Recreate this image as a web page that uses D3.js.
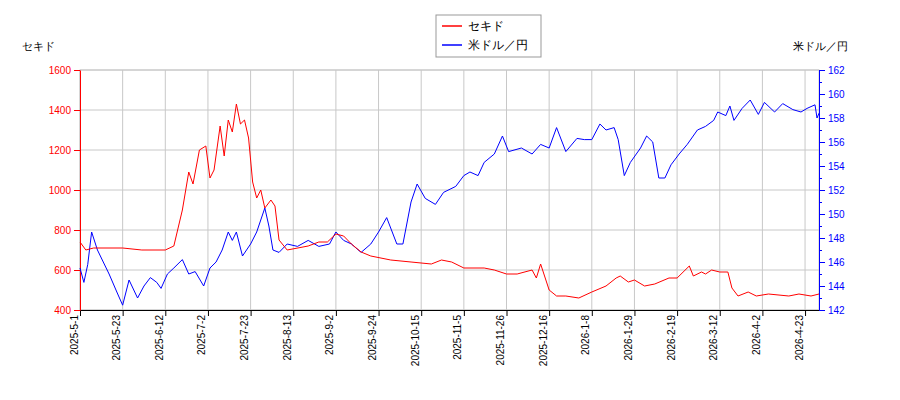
<!DOCTYPE html>
<html><head><meta charset="utf-8">
<script src="https://cdn.jsdelivr.net/npm/d3@7"></script>
<style>body{margin:0;background:#fff;font-family:"DejaVu Sans",sans-serif;}</style>
</head><body><svg id="c" width="900" height="400"></svg>
<script>
// セキド (left axis)
const sekidoDates = ["2025-05-01","2025-05-04","2025-05-08","2025-05-23","2025-06-01","2025-06-12","2025-06-16","2025-06-20","2025-06-23","2025-06-25","2025-06-28","2025-07-01","2025-07-03","2025-07-05","2025-07-08","2025-07-10","2025-07-12","2025-07-14","2025-07-16","2025-07-18","2025-07-20","2025-07-22","2025-07-24","2025-07-26","2025-07-28","2025-07-30","2025-08-02","2025-08-04","2025-08-06","2025-08-10","2025-08-20","2025-08-25","2025-08-29","2025-09-02","2025-09-06","2025-09-10","2025-09-15","2025-09-20","2025-09-30","2025-10-10","2025-10-20","2025-10-25","2025-10-30","2025-11-05","2025-11-15","2025-11-20","2025-11-26","2025-12-01","2025-12-08","2025-12-10","2025-12-12","2025-12-16","2025-12-20","2025-12-25","2026-01-01","2026-01-08","2026-01-15","2026-01-20","2026-01-22","2026-01-26","2026-01-29","2026-02-03","2026-02-08","2026-02-15","2026-02-19","2026-02-25","2026-02-27","2026-03-03","2026-03-05","2026-03-08","2026-03-12","2026-03-16","2026-03-18","2026-03-21","2026-03-26","2026-03-30","2026-04-05","2026-04-15","2026-04-20","2026-04-26","2026-04-30"];
const sekidoValues = [740,700,710,710,700,700,720,900,1090,1030,1200,1220,1060,1100,1320,1170,1350,1290,1430,1330,1350,1260,1040,960,1000,910,950,920,750,700,720,740,740,780,770,730,690,670,650,640,630,650,640,610,610,600,580,580,600,560,630,500,470,470,460,490,520,560,570,540,550,520,530,560,560,620,570,590,580,600,590,590,510,470,490,470,480,470,480,470,480];
// 米ドル／円 (right axis)
const usdDates = ["2025-05-01","2025-05-03","2025-05-05","2025-05-07","2025-05-10","2025-05-13","2025-05-16","2025-05-20","2025-05-23","2025-05-26","2025-05-30","2025-06-02","2025-06-05","2025-06-08","2025-06-10","2025-06-13","2025-06-16","2025-06-20","2025-06-23","2025-06-26","2025-06-30","2025-07-03","2025-07-06","2025-07-09","2025-07-12","2025-07-14","2025-07-16","2025-07-19","2025-07-23","2025-07-26","2025-07-30","2025-08-01","2025-08-03","2025-08-06","2025-08-10","2025-08-15","2025-08-20","2025-08-25","2025-08-30","2025-09-02","2025-09-06","2025-09-10","2025-09-15","2025-09-20","2025-09-24","2025-09-28","2025-10-03","2025-10-06","2025-10-10","2025-10-13","2025-10-17","2025-10-22","2025-10-26","2025-11-01","2025-11-05","2025-11-08","2025-11-12","2025-11-15","2025-11-20","2025-11-24","2025-11-27","2025-12-03","2025-12-08","2025-12-12","2025-12-16","2025-12-20","2025-12-25","2025-12-31","2026-01-04","2026-01-08","2026-01-12","2026-01-15","2026-01-19","2026-01-21","2026-01-24","2026-01-27","2026-02-01","2026-02-04","2026-02-07","2026-02-10","2026-02-13","2026-02-16","2026-02-20","2026-02-24","2026-03-01","2026-03-05","2026-03-09","2026-03-11","2026-03-15","2026-03-17","2026-03-19","2026-03-23","2026-03-27","2026-03-31","2026-04-03","2026-04-08","2026-04-12","2026-04-17","2026-04-21","2026-04-24","2026-04-28","2026-04-29","2026-04-30"];
const usdValues = [145.5,144.3,145.8,148.5,147,146,145,143.5,142.4,144.5,143,144,144.7,144.3,143.8,145,145.5,146.2,145,145.2,144,145.5,146,147,148.5,147.8,148.5,146.5,147.5,148.5,150.5,149,147,146.8,147.5,147.3,147.8,147.3,147.5,148.5,147.8,147.5,146.8,147.5,148.5,149.7,147.5,147.5,151,152.5,151.3,150.8,151.8,152.3,153.2,153.5,153.2,154.3,155,156.5,155.2,155.5,155,155.8,155.5,157.2,155.2,156.3,156.2,156.2,157.5,157,157.2,156.2,153.2,154.3,155.5,156.5,156,153,153,154.1,155,155.8,157,157.3,157.8,158.5,158.2,159,157.8,158.8,159.5,158.3,159.3,158.5,159.2,158.7,158.5,158.8,159.1,158,158.4];
const tickDates = ["2025-05-01","2025-05-23","2025-06-12","2025-07-02","2025-07-23","2025-08-13","2025-09-02","2025-09-24","2025-10-15","2025-11-05","2025-11-26","2025-12-16","2026-01-08","2026-01-29","2026-02-19","2026-03-12","2026-04-02","2026-04-23"];
const endDate = "2026-04-30";
const leftTicks = [400,600,800,1000,1200,1400,1600];
const rightTicks = [142,144,146,148,150,152,154,156,158,160,162];

const p = d3.timeParse("%Y-%m-%d");
const svg = d3.select("#c");
const L = 80, R = 819, T = 70, B = 310;
const step = 42.65;
const xTicks = tickDates.map(p);
// trading-day axis: tick dates are evenly spaced
const x = d3.scaleTime().domain(xTicks.concat([p(endDate)]))
  .range(xTicks.map((d, i) => L + i*step).concat([R]));
const yL = d3.scaleLinear().domain([400,1600]).range([B, T]);
const yR = d3.scaleLinear().domain([142,162]).range([B, T]);
const fmt = d => `${d.getFullYear()}-${d.getMonth()+1}-${d.getDate()}`;

// grid
svg.append("g").selectAll("line").data(xTicks).join("line")
  .attr("x1", d => x(d)).attr("x2", d => x(d)).attr("y1", T).attr("y2", B)
  .attr("stroke", "#c8c8c8");
svg.append("g").selectAll("line").data(leftTicks).join("line")
  .attr("x1", L).attr("x2", R).attr("y1", d => yL(d)).attr("y2", d => yL(d))
  .attr("stroke", "#c8c8c8");
svg.append("rect").attr("x", L).attr("y", T).attr("width", R-L).attr("height", B-T)
  .attr("fill", "none").attr("stroke", "#c8c8c8");

// axes
const ax = svg.append("g").attr("transform", `translate(0,${B})`)
  .call(d3.axisBottom(x).tickValues(xTicks).tickFormat(fmt).tickSizeOuter(0));
ax.selectAll("text").attr("transform", "rotate(-90)").attr("text-anchor", "end")
  .attr("x", -5).attr("y", -3).attr("dy", "0").style("font-size", "10px");
const al = svg.append("g").attr("transform", `translate(${L},0)`)
  .call(d3.axisLeft(yL).tickValues(leftTicks).tickFormat(d3.format("d")).tickSizeOuter(0));
al.selectAll("path,line").attr("stroke", "red");
al.selectAll("text").attr("fill", "red").style("font-size", "10px");
const ar = svg.append("g").attr("transform", `translate(${R},0)`)
  .call(d3.axisRight(yR).tickValues(rightTicks).tickSizeOuter(0));
ar.selectAll("path,line").attr("stroke", "blue");
ar.selectAll("text").attr("fill", "blue").style("font-size", "10px");
svg.append("g").attr("transform", `translate(${R},0)`)
  .call(d3.axisRight(yR).tickValues(d3.range(143,162,2)).tickSize(3).tickFormat(""))
  .selectAll("path,line").attr("stroke", "blue");

// lines
const lnL = d3.line().x(d => x(p(d[0]))).y(d => yL(d[1]));
const lnR = d3.line().x(d => x(p(d[0]))).y(d => yR(d[1]));
svg.append("path").datum(d3.zip(usdDates, usdValues)).attr("d", lnR)
  .attr("fill", "none").attr("stroke", "blue").attr("stroke-width", 1);
svg.append("path").datum(d3.zip(sekidoDates, sekidoValues)).attr("d", lnL)
  .attr("fill", "none").attr("stroke", "red").attr("stroke-width", 1);

// axis titles
svg.append("text").attr("x", 38).attr("y", 50).attr("text-anchor", "middle")
  .style("font-size", "11px").text("セキド");
svg.append("text").attr("x", 820).attr("y", 50).attr("text-anchor", "middle")
  .style("font-size", "11px").text("米ドル／円");

// legend
const lg = svg.append("g");
lg.append("rect").attr("x", 436).attr("y", 15).attr("width", 105).attr("height", 42)
  .attr("fill", "#fff").attr("stroke", "#999");
[["セキド","red"],["米ドル／円","blue"]].forEach((s, i) => {
  lg.append("line").attr("x1", 442).attr("x2", 462).attr("y1", 26+i*19).attr("y2", 26+i*19)
    .attr("stroke", s[1]).attr("stroke-width", 1.5);
  lg.append("text").attr("x", 468).attr("y", 30+i*19).style("font-size", "12px").text(s[0]);
});
</script></body></html>
